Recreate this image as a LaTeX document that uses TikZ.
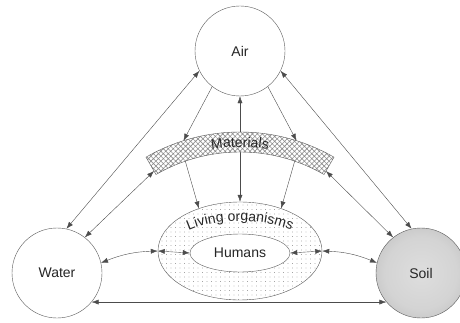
\documentclass[tikz,border=0pt]{standalone}
\usepackage{fontspec}
\setmainfont{Liberation Sans}
\usetikzlibrary{arrows.meta, shapes.geometric, patterns.meta, decorations.text}
\newcommand{\labfont}{\fontsize{14}{16}\selectfont}
\pgfdeclareradialshading{paleglow}{\pgfpoint{0bp}{0bp}}{color(0bp)=(white); color(30bp)=(white); color(50bp)=(black!9); color(100bp)=(black!9)}
\pgfdeclareradialshading{soilglow}{\pgfpoint{0bp}{0bp}}{color(0bp)=(black!13); color(20bp)=(black!17); color(50bp)=(black!36); color(100bp)=(black!36)}
\tikzset{
	sphere/.style={circle, draw=black!65, thin, minimum size=90pt, inner sep=0pt, font=\labfont, text=black!85, shading=paleglow},
	link/.style={draw=black!70, thin},
	bandtext/.style={decorate, decoration={text along path, text align=center, text color=black!85, text={|\labfont|#1}}}
}

\begin{document}
\begin{tikzpicture}[x=1pt, y=1pt, >={Latex[length=7pt, width=5pt]}]
			\useasboundingbox (0,0) rectangle (460,322);
			\node[ellipse, draw=black!65, thin, minimum width=164pt, minimum height=98pt, preaction={fill=white}, pattern={Dots[distance=4.5pt, radius=0.45pt]}, pattern color=black!55] (living) at (240,71) {};
			\node[ellipse, draw=black!65, thin, fill=white, minimum width=100pt, minimum height=38pt, font=\labfont, text=black!85] (humans) at (240,69) {Humans};
			\node[sphere] (air) at (240,271) {Air};
			\node[sphere] (water) at (57,49) {Water};
			\node[sphere, shading=soilglow] (soil) at (421,49) {Soil};
			\coordinate (arc) at (240,2);
			\coordinate (mat-tl) at ([shift={(107.5:188pt)}]arc);
			\coordinate (mat-tr) at ([shift={(72.5:188pt)}]arc);
			\coordinate (mat-bl) at ([shift={(109:168pt)}]arc);
			\coordinate (mat-br) at ([shift={(71:168pt)}]arc);
			\coordinate (mat-l) at ([shift={(120:172pt)}]arc);
			\coordinate (mat-r) at ([shift={(60:172pt)}]arc);
			\draw[link, <->] (living.north) -- (air.south);
			\draw[draw=black!65, thin, preaction={fill=white}, pattern={Hatch[distance=3.5pt, angle=45, line width=0.6pt]}, pattern color=black!45] ([shift={(60:188pt)}]arc) arc[start angle=60, end angle=120, radius=188pt] -- ([shift={(120:168pt)}]arc) arc[start angle=120, end angle=60, radius=168pt] -- cycle;
			\path[bandtext=Materials] ([shift={(108:173pt)}]arc) arc[start angle=108, end angle=72, radius=173pt];
			\path[bandtext=Living organisms] ([shift={(168:70pt and 30pt)}]living.center) arc[start angle=168, end angle=12, x radius=70pt, y radius=30pt];
			\draw[link, <->] (air.206) -- (water.78);
			\draw[link, <->] (air.334) -- (soil.102);
			\draw[link, ->] (air.232) -- (mat-tl);
			\draw[link, ->] (air.308) -- (mat-tr);
			\draw[link, <->] (mat-l) -- (water.52);
			\draw[link, <->] (mat-r) -- (soil.128);
			\draw[link, ->] (mat-bl) -- (living.134);
			\draw[link, ->] (mat-br) -- (living.46);
			\draw[link, <->] (water.13) to[bend left=10] (living.west);
			\draw[link, <->] (living.west) -- (humans.west);
			\draw[link, <->] (humans.east) -- (living.east);
			\draw[link, <->] (living.east) to[bend left=10] (soil.167);
			\draw[link, <->] (water.-40) -- (soil.220);
\end{tikzpicture}
\end{document}
